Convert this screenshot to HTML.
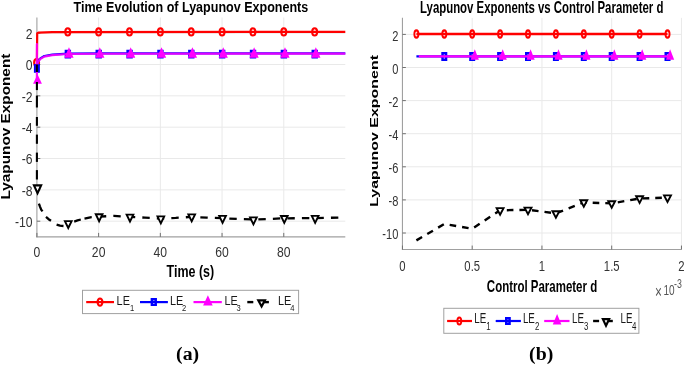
<!DOCTYPE html>
<html><head><meta charset="utf-8"><title>Lyapunov Exponents</title>
<style>
html,body{margin:0;padding:0;background:#fff;}
body{width:685px;height:365px;overflow:hidden;}
svg{display:block;font-family:"Liberation Sans", sans-serif;will-change:transform;}
</style></head><body>
<svg width="685" height="365" viewBox="0 0 685 365">
<line x1="36.9" y1="33.16" x2="345.3" y2="33.16" stroke="#e9e9e9" stroke-width="1"/>
<line x1="36.9" y1="64.50" x2="345.3" y2="64.50" stroke="#e9e9e9" stroke-width="1"/>
<line x1="36.9" y1="95.84" x2="345.3" y2="95.84" stroke="#e9e9e9" stroke-width="1"/>
<line x1="36.9" y1="127.18" x2="345.3" y2="127.18" stroke="#e9e9e9" stroke-width="1"/>
<line x1="36.9" y1="158.52" x2="345.3" y2="158.52" stroke="#e9e9e9" stroke-width="1"/>
<line x1="36.9" y1="189.86" x2="345.3" y2="189.86" stroke="#e9e9e9" stroke-width="1"/>
<line x1="36.9" y1="221.20" x2="345.3" y2="221.20" stroke="#e9e9e9" stroke-width="1"/>
<line x1="98.62" y1="17.5" x2="98.62" y2="236.9" stroke="#e9e9e9" stroke-width="1"/>
<line x1="160.34" y1="17.5" x2="160.34" y2="236.9" stroke="#e9e9e9" stroke-width="1"/>
<line x1="222.06" y1="17.5" x2="222.06" y2="236.9" stroke="#e9e9e9" stroke-width="1"/>
<line x1="283.78" y1="17.5" x2="283.78" y2="236.9" stroke="#e9e9e9" stroke-width="1"/>
<line x1="402.45" y1="34.40" x2="681.45" y2="34.40" stroke="#e9e9e9" stroke-width="1"/>
<line x1="402.45" y1="67.50" x2="681.45" y2="67.50" stroke="#e9e9e9" stroke-width="1"/>
<line x1="402.45" y1="100.60" x2="681.45" y2="100.60" stroke="#e9e9e9" stroke-width="1"/>
<line x1="402.45" y1="133.70" x2="681.45" y2="133.70" stroke="#e9e9e9" stroke-width="1"/>
<line x1="402.45" y1="166.80" x2="681.45" y2="166.80" stroke="#e9e9e9" stroke-width="1"/>
<line x1="402.45" y1="199.90" x2="681.45" y2="199.90" stroke="#e9e9e9" stroke-width="1"/>
<line x1="402.45" y1="233.00" x2="681.45" y2="233.00" stroke="#e9e9e9" stroke-width="1"/>
<line x1="472.20" y1="17.85" x2="472.20" y2="249.55" stroke="#e9e9e9" stroke-width="1"/>
<line x1="541.95" y1="17.85" x2="541.95" y2="249.55" stroke="#e9e9e9" stroke-width="1"/>
<line x1="611.70" y1="17.85" x2="611.70" y2="249.55" stroke="#e9e9e9" stroke-width="1"/>
<line x1="681.45" y1="17.85" x2="681.45" y2="249.55" stroke="#e9e9e9" stroke-width="1"/>
<line x1="36.9" y1="17.5" x2="36.9" y2="237.4" stroke="#a0a0a0" stroke-width="1.1"/>
<line x1="36.4" y1="236.9" x2="345.3" y2="236.9" stroke="#a0a0a0" stroke-width="1.1"/>
<line x1="36.9" y1="33.16" x2="40.3" y2="33.16" stroke="#707070" stroke-width="1"/>
<line x1="36.9" y1="64.50" x2="40.3" y2="64.50" stroke="#707070" stroke-width="1"/>
<line x1="36.9" y1="95.84" x2="40.3" y2="95.84" stroke="#707070" stroke-width="1"/>
<line x1="36.9" y1="127.18" x2="40.3" y2="127.18" stroke="#707070" stroke-width="1"/>
<line x1="36.9" y1="158.52" x2="40.3" y2="158.52" stroke="#707070" stroke-width="1"/>
<line x1="36.9" y1="189.86" x2="40.3" y2="189.86" stroke="#707070" stroke-width="1"/>
<line x1="36.9" y1="221.20" x2="40.3" y2="221.20" stroke="#707070" stroke-width="1"/>
<line x1="36.90" y1="236.9" x2="36.90" y2="232.9" stroke="#707070" stroke-width="1"/>
<line x1="98.62" y1="236.9" x2="98.62" y2="232.9" stroke="#707070" stroke-width="1"/>
<line x1="160.34" y1="236.9" x2="160.34" y2="232.9" stroke="#707070" stroke-width="1"/>
<line x1="222.06" y1="236.9" x2="222.06" y2="232.9" stroke="#707070" stroke-width="1"/>
<line x1="283.78" y1="236.9" x2="283.78" y2="232.9" stroke="#707070" stroke-width="1"/>
<line x1="402.45" y1="17.85" x2="402.45" y2="250.05" stroke="#a0a0a0" stroke-width="1.1"/>
<line x1="401.95" y1="249.55" x2="681.45" y2="249.55" stroke="#a0a0a0" stroke-width="1.1"/>
<line x1="402.45" y1="34.40" x2="405.84999999999997" y2="34.40" stroke="#707070" stroke-width="1"/>
<line x1="402.45" y1="67.50" x2="405.84999999999997" y2="67.50" stroke="#707070" stroke-width="1"/>
<line x1="402.45" y1="100.60" x2="405.84999999999997" y2="100.60" stroke="#707070" stroke-width="1"/>
<line x1="402.45" y1="133.70" x2="405.84999999999997" y2="133.70" stroke="#707070" stroke-width="1"/>
<line x1="402.45" y1="166.80" x2="405.84999999999997" y2="166.80" stroke="#707070" stroke-width="1"/>
<line x1="402.45" y1="199.90" x2="405.84999999999997" y2="199.90" stroke="#707070" stroke-width="1"/>
<line x1="402.45" y1="233.00" x2="405.84999999999997" y2="233.00" stroke="#707070" stroke-width="1"/>
<line x1="402.45" y1="249.55" x2="402.45" y2="245.55" stroke="#707070" stroke-width="1"/>
<line x1="472.20" y1="249.55" x2="472.20" y2="245.55" stroke="#707070" stroke-width="1"/>
<line x1="541.95" y1="249.55" x2="541.95" y2="245.55" stroke="#707070" stroke-width="1"/>
<line x1="611.70" y1="249.55" x2="611.70" y2="245.55" stroke="#707070" stroke-width="1"/>
<line x1="681.45" y1="249.55" x2="681.45" y2="245.55" stroke="#707070" stroke-width="1"/>
<polyline points="36.90,62.62 37.21,33.16 38.75,32.53 52.33,32.06 345.30,31.91" fill="none" stroke="#ff0000" stroke-width="2.2" stroke-linejoin="round"/>
<path d="M33.10,62.60 a3.50,4.60 0 1,0 7.00,0 a3.50,4.60 0 1,0 -7.00,0 Z M35.20,62.60 a1.40,2.60 0 1,0 2.80,0 a1.40,2.60 0 1,0 -2.80,0 Z" fill="#ff0000" fill-rule="evenodd"/>
<path d="M64.26,31.91 a3.50,4.60 0 1,0 7.00,0 a3.50,4.60 0 1,0 -7.00,0 Z M66.36,31.91 a1.40,2.60 0 1,0 2.80,0 a1.40,2.60 0 1,0 -2.80,0 Z" fill="#ff0000" fill-rule="evenodd"/>
<path d="M95.12,31.91 a3.50,4.60 0 1,0 7.00,0 a3.50,4.60 0 1,0 -7.00,0 Z M97.22,31.91 a1.40,2.60 0 1,0 2.80,0 a1.40,2.60 0 1,0 -2.80,0 Z" fill="#ff0000" fill-rule="evenodd"/>
<path d="M125.98,31.91 a3.50,4.60 0 1,0 7.00,0 a3.50,4.60 0 1,0 -7.00,0 Z M128.08,31.91 a1.40,2.60 0 1,0 2.80,0 a1.40,2.60 0 1,0 -2.80,0 Z" fill="#ff0000" fill-rule="evenodd"/>
<path d="M156.84,31.91 a3.50,4.60 0 1,0 7.00,0 a3.50,4.60 0 1,0 -7.00,0 Z M158.94,31.91 a1.40,2.60 0 1,0 2.80,0 a1.40,2.60 0 1,0 -2.80,0 Z" fill="#ff0000" fill-rule="evenodd"/>
<path d="M187.70,31.91 a3.50,4.60 0 1,0 7.00,0 a3.50,4.60 0 1,0 -7.00,0 Z M189.80,31.91 a1.40,2.60 0 1,0 2.80,0 a1.40,2.60 0 1,0 -2.80,0 Z" fill="#ff0000" fill-rule="evenodd"/>
<path d="M218.56,31.91 a3.50,4.60 0 1,0 7.00,0 a3.50,4.60 0 1,0 -7.00,0 Z M220.66,31.91 a1.40,2.60 0 1,0 2.80,0 a1.40,2.60 0 1,0 -2.80,0 Z" fill="#ff0000" fill-rule="evenodd"/>
<path d="M249.42,31.91 a3.50,4.60 0 1,0 7.00,0 a3.50,4.60 0 1,0 -7.00,0 Z M251.52,31.91 a1.40,2.60 0 1,0 2.80,0 a1.40,2.60 0 1,0 -2.80,0 Z" fill="#ff0000" fill-rule="evenodd"/>
<path d="M280.28,31.91 a3.50,4.60 0 1,0 7.00,0 a3.50,4.60 0 1,0 -7.00,0 Z M282.38,31.91 a1.40,2.60 0 1,0 2.80,0 a1.40,2.60 0 1,0 -2.80,0 Z" fill="#ff0000" fill-rule="evenodd"/>
<path d="M311.14,31.91 a3.50,4.60 0 1,0 7.00,0 a3.50,4.60 0 1,0 -7.00,0 Z M313.24,31.91 a1.40,2.60 0 1,0 2.80,0 a1.40,2.60 0 1,0 -2.80,0 Z" fill="#ff0000" fill-rule="evenodd"/>
<polyline points="36.90,68.42 36.90,64.50 38.44,60.74 40.29,58.39 44.31,56.04 52.33,54.63 67.76,53.69 98.62,53.45 345.30,53.30" fill="none" stroke="#0000ff" stroke-width="2.2" stroke-linejoin="round"/>
<path d="M33.90,64.10 h6.00 v8.60 h-6.00 Z M36.30,66.50 v3.80 h1.20 v-3.80 Z" fill="#0000ff" fill-rule="evenodd"/>
<path d="M64.66,49.84 h6.40 v8.60 h-6.40 Z M67.16,52.34 v3.60 h1.40 v-3.60 Z" fill="#0000ff" fill-rule="evenodd"/>
<path d="M95.52,49.84 h6.40 v8.60 h-6.40 Z M98.02,52.34 v3.60 h1.40 v-3.60 Z" fill="#0000ff" fill-rule="evenodd"/>
<path d="M126.38,49.84 h6.40 v8.60 h-6.40 Z M128.88,52.34 v3.60 h1.40 v-3.60 Z" fill="#0000ff" fill-rule="evenodd"/>
<path d="M157.24,49.84 h6.40 v8.60 h-6.40 Z M159.74,52.34 v3.60 h1.40 v-3.60 Z" fill="#0000ff" fill-rule="evenodd"/>
<path d="M188.10,49.84 h6.40 v8.60 h-6.40 Z M190.60,52.34 v3.60 h1.40 v-3.60 Z" fill="#0000ff" fill-rule="evenodd"/>
<path d="M218.96,49.84 h6.40 v8.60 h-6.40 Z M221.46,52.34 v3.60 h1.40 v-3.60 Z" fill="#0000ff" fill-rule="evenodd"/>
<path d="M249.82,49.84 h6.40 v8.60 h-6.40 Z M252.32,52.34 v3.60 h1.40 v-3.60 Z" fill="#0000ff" fill-rule="evenodd"/>
<path d="M280.68,49.84 h6.40 v8.60 h-6.40 Z M283.18,52.34 v3.60 h1.40 v-3.60 Z" fill="#0000ff" fill-rule="evenodd"/>
<path d="M311.54,49.84 h6.40 v8.60 h-6.40 Z M314.04,52.34 v3.60 h1.40 v-3.60 Z" fill="#0000ff" fill-rule="evenodd"/>
<polyline points="36.90,80.17 36.90,44.13 37.05,64.50 38.44,61.37 40.29,59.02 44.31,56.66 52.33,55.10 67.76,54.00 98.62,53.77 345.30,53.61" fill="none" stroke="#ff00ff" stroke-width="2.2" stroke-linejoin="round" stroke-opacity="0.88"/>
<path d="M37.50,74.17 L41.90,83.67 L33.10,83.67 Z" fill="#ff00ff"/>
<path d="M68.96,47.31 L73.56,57.71 L64.36,57.71 Z" fill="#ff00ff"/>
<path d="M99.82,47.31 L104.42,57.71 L95.22,57.71 Z" fill="#ff00ff"/>
<path d="M130.68,47.31 L135.28,57.71 L126.08,57.71 Z" fill="#ff00ff"/>
<path d="M161.54,47.31 L166.14,57.71 L156.94,57.71 Z" fill="#ff00ff"/>
<path d="M192.40,47.31 L197.00,57.71 L187.80,57.71 Z" fill="#ff00ff"/>
<path d="M223.26,47.31 L227.86,57.71 L218.66,57.71 Z" fill="#ff00ff"/>
<path d="M254.12,47.31 L258.72,57.71 L249.52,57.71 Z" fill="#ff00ff"/>
<path d="M284.98,47.31 L289.58,57.71 L280.38,57.71 Z" fill="#ff00ff"/>
<path d="M315.84,47.31 L320.44,57.71 L311.24,57.71 Z" fill="#ff00ff"/>
<line x1="36.90" y1="64.4" x2="36.90" y2="72" stroke="#000" stroke-width="2.1"/>
<line x1="36.90" y1="82" x2="36.90" y2="90.1" stroke="#000" stroke-width="2.1"/>
<line x1="36.90" y1="95.6" x2="36.90" y2="107.5" stroke="#000" stroke-width="2.1"/>
<line x1="36.90" y1="117" x2="36.90" y2="125.8" stroke="#000" stroke-width="2.1"/>
<line x1="36.90" y1="134.6" x2="36.90" y2="143.8" stroke="#000" stroke-width="2.1"/>
<line x1="36.90" y1="152.6" x2="36.90" y2="161.9" stroke="#000" stroke-width="2.1"/>
<line x1="36.90" y1="170.1" x2="36.90" y2="179.5" stroke="#000" stroke-width="2.1"/>
<polyline points="38.90,203.60 40.00,206.60 41.20,209.60 42.50,211.40" fill="none" stroke="#000" stroke-width="2.3" stroke-linejoin="round"/>
<polyline points="46.00,216.80 48.60,219.20 51.00,220.80" fill="none" stroke="#000" stroke-width="2.3" stroke-linejoin="round"/>
<polyline points="56.60,224.60 60.00,225.70 63.50,226.00" fill="none" stroke="#000" stroke-width="2.3" stroke-linejoin="round"/>
<polyline points="74.20,221.60 77.50,220.40 80.80,219.50" fill="none" stroke="#000" stroke-width="2.3" stroke-linejoin="round"/>
<polyline points="84.50,218.70 91.50,217.20 98.62,216.60 114.05,215.90 129.48,216.90 144.91,217.60 160.34,218.50 175.77,217.90 191.20,216.90 206.63,217.60 222.06,218.20 237.49,219.00 252.92,219.50 268.35,219.00 283.78,218.30 299.21,218.20 314.64,218.20 330.07,217.80 345.30,217.30" fill="none" stroke="#000" stroke-width="2.3" stroke-linejoin="round" stroke-dasharray="7.4 7.12"/>
<path d="M33.95,185.38 L41.15,185.38 L37.55,193.23 Z" fill="#fff" stroke="#000" stroke-width="2.1" stroke-linejoin="miter"/>
<path d="M64.91,221.08 L71.61,221.08 L68.26,228.03 Z" fill="#fff" stroke="#000" stroke-width="1.9" stroke-linejoin="miter"/>
<path d="M95.77,214.28 L102.47,214.28 L99.12,221.23 Z" fill="#fff" stroke="#000" stroke-width="1.9" stroke-linejoin="miter"/>
<path d="M126.63,214.58 L133.33,214.58 L129.98,221.53 Z" fill="#fff" stroke="#000" stroke-width="1.9" stroke-linejoin="miter"/>
<path d="M157.49,216.38 L164.19,216.38 L160.84,223.33 Z" fill="#fff" stroke="#000" stroke-width="1.9" stroke-linejoin="miter"/>
<path d="M188.35,214.38 L195.05,214.38 L191.70,221.33 Z" fill="#fff" stroke="#000" stroke-width="1.9" stroke-linejoin="miter"/>
<path d="M219.21,215.88 L225.91,215.88 L222.56,222.83 Z" fill="#fff" stroke="#000" stroke-width="1.9" stroke-linejoin="miter"/>
<path d="M250.07,217.38 L256.77,217.38 L253.42,224.33 Z" fill="#fff" stroke="#000" stroke-width="1.9" stroke-linejoin="miter"/>
<path d="M280.93,215.98 L287.63,215.98 L284.28,222.93 Z" fill="#fff" stroke="#000" stroke-width="1.9" stroke-linejoin="miter"/>
<path d="M311.79,215.88 L318.49,215.88 L315.14,222.83 Z" fill="#fff" stroke="#000" stroke-width="1.9" stroke-linejoin="miter"/>
<polyline points="416.40,34.00 667.50,34.00" fill="none" stroke="#ff0000" stroke-width="2.4" stroke-linejoin="round"/>
<path d="M413.40,34.00 a3.00,4.70 0 1,0 6.00,0 a3.00,4.70 0 1,0 -6.00,0 Z M415.30,34.00 a1.10,2.60 0 1,0 2.20,0 a1.10,2.60 0 1,0 -2.20,0 Z" fill="#ff0000" fill-rule="evenodd"/>
<path d="M441.30,34.00 a3.00,4.70 0 1,0 6.00,0 a3.00,4.70 0 1,0 -6.00,0 Z M443.20,34.00 a1.10,2.60 0 1,0 2.20,0 a1.10,2.60 0 1,0 -2.20,0 Z" fill="#ff0000" fill-rule="evenodd"/>
<path d="M469.20,34.00 a3.00,4.70 0 1,0 6.00,0 a3.00,4.70 0 1,0 -6.00,0 Z M471.10,34.00 a1.10,2.60 0 1,0 2.20,0 a1.10,2.60 0 1,0 -2.20,0 Z" fill="#ff0000" fill-rule="evenodd"/>
<path d="M497.10,34.00 a3.00,4.70 0 1,0 6.00,0 a3.00,4.70 0 1,0 -6.00,0 Z M499.00,34.00 a1.10,2.60 0 1,0 2.20,0 a1.10,2.60 0 1,0 -2.20,0 Z" fill="#ff0000" fill-rule="evenodd"/>
<path d="M525.00,34.00 a3.00,4.70 0 1,0 6.00,0 a3.00,4.70 0 1,0 -6.00,0 Z M526.90,34.00 a1.10,2.60 0 1,0 2.20,0 a1.10,2.60 0 1,0 -2.20,0 Z" fill="#ff0000" fill-rule="evenodd"/>
<path d="M552.90,34.00 a3.00,4.70 0 1,0 6.00,0 a3.00,4.70 0 1,0 -6.00,0 Z M554.80,34.00 a1.10,2.60 0 1,0 2.20,0 a1.10,2.60 0 1,0 -2.20,0 Z" fill="#ff0000" fill-rule="evenodd"/>
<path d="M580.80,34.00 a3.00,4.70 0 1,0 6.00,0 a3.00,4.70 0 1,0 -6.00,0 Z M582.70,34.00 a1.10,2.60 0 1,0 2.20,0 a1.10,2.60 0 1,0 -2.20,0 Z" fill="#ff0000" fill-rule="evenodd"/>
<path d="M608.70,34.00 a3.00,4.70 0 1,0 6.00,0 a3.00,4.70 0 1,0 -6.00,0 Z M610.60,34.00 a1.10,2.60 0 1,0 2.20,0 a1.10,2.60 0 1,0 -2.20,0 Z" fill="#ff0000" fill-rule="evenodd"/>
<path d="M636.60,34.00 a3.00,4.70 0 1,0 6.00,0 a3.00,4.70 0 1,0 -6.00,0 Z M638.50,34.00 a1.10,2.60 0 1,0 2.20,0 a1.10,2.60 0 1,0 -2.20,0 Z" fill="#ff0000" fill-rule="evenodd"/>
<path d="M664.50,34.00 a3.00,4.70 0 1,0 6.00,0 a3.00,4.70 0 1,0 -6.00,0 Z M666.40,34.00 a1.10,2.60 0 1,0 2.20,0 a1.10,2.60 0 1,0 -2.20,0 Z" fill="#ff0000" fill-rule="evenodd"/>
<polyline points="416.40,56.40 667.50,56.40" fill="none" stroke="#0000ff" stroke-width="2.4" stroke-linejoin="round"/>
<path d="M441.30,52.10 h6.00 v8.80 h-6.00 Z M443.70,54.50 v4.00 h1.20 v-4.00 Z" fill="#0000ff" fill-rule="evenodd"/>
<path d="M469.20,52.10 h6.00 v8.80 h-6.00 Z M471.60,54.50 v4.00 h1.20 v-4.00 Z" fill="#0000ff" fill-rule="evenodd"/>
<path d="M497.10,52.10 h6.00 v8.80 h-6.00 Z M499.50,54.50 v4.00 h1.20 v-4.00 Z" fill="#0000ff" fill-rule="evenodd"/>
<path d="M525.00,52.10 h6.00 v8.80 h-6.00 Z M527.40,54.50 v4.00 h1.20 v-4.00 Z" fill="#0000ff" fill-rule="evenodd"/>
<path d="M552.90,52.10 h6.00 v8.80 h-6.00 Z M555.30,54.50 v4.00 h1.20 v-4.00 Z" fill="#0000ff" fill-rule="evenodd"/>
<path d="M580.80,52.10 h6.00 v8.80 h-6.00 Z M583.20,54.50 v4.00 h1.20 v-4.00 Z" fill="#0000ff" fill-rule="evenodd"/>
<path d="M608.70,52.10 h6.00 v8.80 h-6.00 Z M611.10,54.50 v4.00 h1.20 v-4.00 Z" fill="#0000ff" fill-rule="evenodd"/>
<path d="M636.60,52.10 h6.00 v8.80 h-6.00 Z M639.00,54.50 v4.00 h1.20 v-4.00 Z" fill="#0000ff" fill-rule="evenodd"/>
<path d="M664.50,52.10 h6.00 v8.80 h-6.00 Z M666.90,54.50 v4.00 h1.20 v-4.00 Z" fill="#0000ff" fill-rule="evenodd"/>
<polyline points="418.80,56.40 669.90,56.40" fill="none" stroke="#ff00ff" stroke-width="2.4" stroke-linejoin="round"/>
<path d="M474.80,49.30 L478.90,59.80 L470.70,59.80 Z" fill="#ff00ff"/>
<path d="M502.70,49.30 L506.80,59.80 L498.60,59.80 Z" fill="#ff00ff"/>
<path d="M530.60,49.30 L534.70,59.80 L526.50,59.80 Z" fill="#ff00ff"/>
<path d="M558.50,49.30 L562.60,59.80 L554.40,59.80 Z" fill="#ff00ff"/>
<path d="M586.40,49.30 L590.50,59.80 L582.30,59.80 Z" fill="#ff00ff"/>
<path d="M614.30,49.30 L618.40,59.80 L610.20,59.80 Z" fill="#ff00ff"/>
<path d="M642.20,49.30 L646.30,59.80 L638.10,59.80 Z" fill="#ff00ff"/>
<path d="M670.10,49.30 L674.20,59.80 L666.00,59.80 Z" fill="#ff00ff"/>
<polyline points="416.40,240.40 444.30,224.00 472.20,228.70 500.10,210.30 528.00,209.80 555.90,213.40 583.80,202.40 611.70,203.40 639.60,198.50 667.50,197.60" fill="none" stroke="#000" stroke-width="2.4" stroke-linejoin="round" stroke-dasharray="6.6 6.0"/>
<path d="M496.65,208.12 L503.55,208.12 L500.10,214.67 Z" fill="#fff" stroke="#000" stroke-width="1.9" stroke-linejoin="miter"/>
<path d="M524.55,207.62 L531.45,207.62 L528.00,214.17 Z" fill="#fff" stroke="#000" stroke-width="1.9" stroke-linejoin="miter"/>
<path d="M552.45,211.22 L559.35,211.22 L555.90,217.77 Z" fill="#fff" stroke="#000" stroke-width="1.9" stroke-linejoin="miter"/>
<path d="M580.35,200.22 L587.25,200.22 L583.80,206.77 Z" fill="#fff" stroke="#000" stroke-width="1.9" stroke-linejoin="miter"/>
<path d="M608.25,201.22 L615.15,201.22 L611.70,207.77 Z" fill="#fff" stroke="#000" stroke-width="1.9" stroke-linejoin="miter"/>
<path d="M636.15,196.32 L643.05,196.32 L639.60,202.87 Z" fill="#fff" stroke="#000" stroke-width="1.9" stroke-linejoin="miter"/>
<path d="M664.05,195.42 L670.95,195.42 L667.50,201.97 Z" fill="#fff" stroke="#000" stroke-width="1.9" stroke-linejoin="miter"/>
<text transform="translate(32.60,38.86) scale(0.8,1)" font-size="15.2" text-anchor="end" font-weight="normal" fill="#333333">2</text>
<text transform="translate(32.60,70.20) scale(0.8,1)" font-size="15.2" text-anchor="end" font-weight="normal" fill="#333333">0</text>
<text transform="translate(32.60,101.54) scale(0.8,1)" font-size="15.2" text-anchor="end" font-weight="normal" fill="#333333">-2</text>
<text transform="translate(32.60,132.88) scale(0.8,1)" font-size="15.2" text-anchor="end" font-weight="normal" fill="#333333">-4</text>
<text transform="translate(32.60,164.22) scale(0.8,1)" font-size="15.2" text-anchor="end" font-weight="normal" fill="#333333">-6</text>
<text transform="translate(32.60,195.56) scale(0.8,1)" font-size="15.2" text-anchor="end" font-weight="normal" fill="#333333">-8</text>
<text transform="translate(32.60,226.90) scale(0.8,1)" font-size="15.2" text-anchor="end" font-weight="normal" fill="#333333">-10</text>
<text transform="translate(36.90,257.30) scale(0.8,1)" font-size="15.2" text-anchor="middle" font-weight="normal" fill="#333333">0</text>
<text transform="translate(98.62,257.30) scale(0.8,1)" font-size="15.2" text-anchor="middle" font-weight="normal" fill="#333333">20</text>
<text transform="translate(160.34,257.30) scale(0.8,1)" font-size="15.2" text-anchor="middle" font-weight="normal" fill="#333333">40</text>
<text transform="translate(222.06,257.30) scale(0.8,1)" font-size="15.2" text-anchor="middle" font-weight="normal" fill="#333333">60</text>
<text transform="translate(283.78,257.30) scale(0.8,1)" font-size="15.2" text-anchor="middle" font-weight="normal" fill="#333333">80</text>
<text transform="translate(190.90,12.20) scale(0.815,1)" font-size="15.4" text-anchor="middle" font-weight="bold" fill="#000">Time Evolution of Lyapunov Exponents</text>
<text transform="translate(9.90,126.60) scale(0.82,1) rotate(-90)" font-size="15.35" text-anchor="middle" font-weight="bold" fill="#000">Lyapunov Exponent</text>
<text transform="translate(190.40,276.60) scale(0.78,1)" font-size="16.0" text-anchor="middle" font-weight="bold" fill="#000">Time (s)</text>
<text transform="translate(398.30,40.60) scale(0.715,1)" font-size="15.5" text-anchor="end" font-weight="normal" fill="#333333">2</text>
<text transform="translate(398.30,73.70) scale(0.715,1)" font-size="15.5" text-anchor="end" font-weight="normal" fill="#333333">0</text>
<text transform="translate(398.30,106.80) scale(0.715,1)" font-size="15.5" text-anchor="end" font-weight="normal" fill="#333333">-2</text>
<text transform="translate(398.30,139.90) scale(0.715,1)" font-size="15.5" text-anchor="end" font-weight="normal" fill="#333333">-4</text>
<text transform="translate(398.30,173.00) scale(0.715,1)" font-size="15.5" text-anchor="end" font-weight="normal" fill="#333333">-6</text>
<text transform="translate(398.30,206.10) scale(0.715,1)" font-size="15.5" text-anchor="end" font-weight="normal" fill="#333333">-8</text>
<text transform="translate(398.30,239.20) scale(0.715,1)" font-size="15.5" text-anchor="end" font-weight="normal" fill="#333333">-10</text>
<text transform="translate(402.45,271.20) scale(0.73,1)" font-size="15.5" text-anchor="middle" font-weight="normal" fill="#333333">0</text>
<text transform="translate(472.20,271.20) scale(0.73,1)" font-size="15.5" text-anchor="middle" font-weight="normal" fill="#333333">0.5</text>
<text transform="translate(541.95,271.20) scale(0.73,1)" font-size="15.5" text-anchor="middle" font-weight="normal" fill="#333333">1</text>
<text transform="translate(611.70,271.20) scale(0.73,1)" font-size="15.5" text-anchor="middle" font-weight="normal" fill="#333333">1.5</text>
<text transform="translate(681.45,271.20) scale(0.73,1)" font-size="15.5" text-anchor="middle" font-weight="normal" fill="#333333">2</text>
<text transform="translate(541.70,12.50) scale(0.722,1)" font-size="15.8" text-anchor="middle" font-weight="bold" fill="#000">Lyapunov Exponents vs Control Parameter d</text>
<text transform="translate(378.20,130.90) scale(0.715,1) rotate(-90)" font-size="15.95" text-anchor="middle" font-weight="bold" fill="#000">Lyapunov Exponent</text>
<text transform="translate(542.00,292.40) scale(0.718,1)" font-size="16.0" text-anchor="middle" font-weight="bold" fill="#000">Control Parameter d</text>
<text transform="translate(655.00,297.60) scale(0.62,1)" font-size="19" text-anchor="start" font-weight="normal" fill="#555">×</text>
<text transform="translate(663.40,294.60) scale(0.66,1)" font-size="15.2" text-anchor="start" font-weight="normal" fill="#555">10</text>
<text transform="translate(674.00,287.70) scale(0.72,1)" font-size="12.2" text-anchor="start" font-weight="normal" fill="#555">-3</text>
<rect x="82.50" y="290.30" width="216.10" height="23.30" fill="#fff" stroke="#a0a0a0" stroke-width="1"/><polyline points="86.20,302.10 114.00,302.10" fill="none" stroke="#ff0000" stroke-width="2.2" stroke-linejoin="round"/><path d="M96.50,302.10 a3.50,4.70 0 1,0 7.00,0 a3.50,4.70 0 1,0 -7.00,0 Z M98.70,302.10 a1.30,2.60 0 1,0 2.60,0 a1.30,2.60 0 1,0 -2.60,0 Z" fill="#ff0000" fill-rule="evenodd"/><text transform="translate(116.60,304.70) scale(0.8,1)" font-size="13.6" text-anchor="start" font-weight="normal" fill="#1a1a1a">LE</text><text transform="translate(129.90,310.50) scale(0.8,1)" font-size="9.5" text-anchor="start" font-weight="normal" fill="#1a1a1a">1</text><polyline points="140.00,302.10 167.90,302.10" fill="none" stroke="#0000ff" stroke-width="2.2" stroke-linejoin="round"/><path d="M150.65,298.10 h6.30 v8.00 h-6.30 Z M153.05,300.50 v3.20 h1.50 v-3.20 Z" fill="#0000ff" fill-rule="evenodd"/><text transform="translate(170.00,304.70) scale(0.8,1)" font-size="13.6" text-anchor="start" font-weight="normal" fill="#1a1a1a">LE</text><text transform="translate(182.00,310.50) scale(0.8,1)" font-size="9.5" text-anchor="start" font-weight="normal" fill="#1a1a1a">2</text><polyline points="193.50,302.10 221.80,302.10" fill="none" stroke="#ff00ff" stroke-width="2.2" stroke-linejoin="round"/><path d="M207.90,295.23 L212.70,305.53 L203.10,305.53 Z" fill="#ff00ff"/><text transform="translate(224.40,304.70) scale(0.8,1)" font-size="13.6" text-anchor="start" font-weight="normal" fill="#1a1a1a">LE</text><text transform="translate(236.40,310.50) scale(0.8,1)" font-size="9.5" text-anchor="start" font-weight="normal" fill="#1a1a1a">3</text><polyline points="247.30,302.10 253.30,302.10" fill="none" stroke="#000" stroke-width="2.4" stroke-linejoin="round"/><polyline points="263.60,302.10 268.90,302.10" fill="none" stroke="#000" stroke-width="2.4" stroke-linejoin="round"/><path d="M258.30,300.37 L264.90,300.37 L261.60,306.47 Z" fill="#fff" stroke="#000" stroke-width="2.2" stroke-linejoin="miter"/><text transform="translate(278.00,304.70) scale(0.8,1)" font-size="13.6" text-anchor="start" font-weight="normal" fill="#1a1a1a">LE</text><text transform="translate(290.20,310.50) scale(0.8,1)" font-size="9.5" text-anchor="start" font-weight="normal" fill="#1a1a1a">4</text>
<rect x="443.80" y="308.30" width="195.10" height="25.00" fill="#fff" stroke="#a0a0a0" stroke-width="1"/><polyline points="447.10,321.00 472.00,321.00" fill="none" stroke="#ff0000" stroke-width="2.2" stroke-linejoin="round"/><path d="M456.40,321.00 a2.90,4.50 0 1,0 5.80,0 a2.90,4.50 0 1,0 -5.80,0 Z M458.30,321.00 a1.00,2.50 0 1,0 2.00,0 a1.00,2.50 0 1,0 -2.00,0 Z" fill="#ff0000" fill-rule="evenodd"/><text transform="translate(474.20,322.70) scale(0.7,1)" font-size="14.0" text-anchor="start" font-weight="normal" fill="#1a1a1a">LE</text><text transform="translate(486.30,329.70) scale(0.7,1)" font-size="11.3" text-anchor="start" font-weight="normal" fill="#1a1a1a">1</text><polyline points="495.70,321.00 520.90,321.00" fill="none" stroke="#0000ff" stroke-width="2.2" stroke-linejoin="round"/><path d="M505.00,317.00 h5.80 v8.00 h-5.80 Z M507.40,319.40 v3.20 h1.00 v-3.20 Z" fill="#0000ff" fill-rule="evenodd"/><text transform="translate(522.90,322.70) scale(0.7,1)" font-size="14.0" text-anchor="start" font-weight="normal" fill="#1a1a1a">LE</text><text transform="translate(535.00,329.70) scale(0.7,1)" font-size="11.3" text-anchor="start" font-weight="normal" fill="#1a1a1a">2</text><polyline points="544.20,321.00 569.50,321.00" fill="none" stroke="#ff00ff" stroke-width="2.2" stroke-linejoin="round"/><path d="M557.10,313.93 L561.40,324.53 L552.80,324.53 Z" fill="#ff00ff"/><text transform="translate(572.00,322.70) scale(0.7,1)" font-size="14.0" text-anchor="start" font-weight="normal" fill="#1a1a1a">LE</text><text transform="translate(584.10,329.70) scale(0.7,1)" font-size="11.3" text-anchor="start" font-weight="normal" fill="#1a1a1a">3</text><polyline points="593.10,321.00 599.10,321.00" fill="none" stroke="#000" stroke-width="2.4" stroke-linejoin="round"/><polyline points="608.00,321.00 612.80,321.00" fill="none" stroke="#000" stroke-width="2.4" stroke-linejoin="round"/><path d="M602.90,319.13 L609.10,319.13 L606.00,325.63 Z" fill="#fff" stroke="#000" stroke-width="2.2" stroke-linejoin="miter"/><text transform="translate(620.50,322.70) scale(0.7,1)" font-size="14.0" text-anchor="start" font-weight="normal" fill="#1a1a1a">LE</text><text transform="translate(632.00,329.70) scale(0.7,1)" font-size="11.3" text-anchor="start" font-weight="normal" fill="#1a1a1a">4</text>
<text x="187.6" y="360.3" font-family="Liberation Serif" font-size="19.8" font-weight="bold" text-anchor="middle" fill="#000">(a)</text>
<text x="541.2" y="360.3" font-family="Liberation Serif" font-size="19.8" font-weight="bold" text-anchor="middle" fill="#000">(b)</text>
</svg>
</body></html>
